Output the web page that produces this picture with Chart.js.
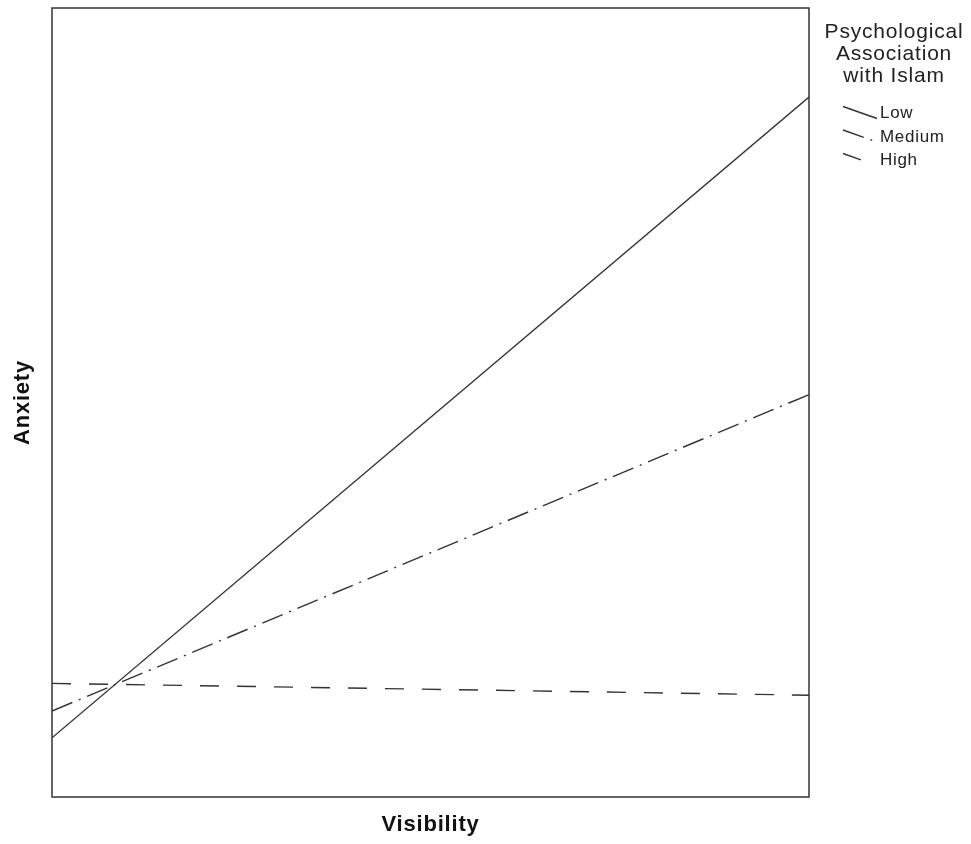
<!DOCTYPE html>
<html lang="en">
<head>
<meta charset="UTF-8">
<title>Anxiety by Visibility</title>
<script src="https://cdn.jsdelivr.net/npm/chart.js"></script>
<style>
    html, body { margin: 0; padding: 0; background: #fff; }
    #wrap { width: 971px; height: 844px; }
</style>
</head>
<body>
<div id="wrap"><canvas id="chart" width="971" height="844"></canvas></div>
<script>
    // values (y on a 0-100 scale, x is the low/high end of Visibility)
    const xPoints = [0, 1];
    const lowValues = [7.5, 88.7];
    const mediumValues = [10.9, 51.0];
    const highValues = [14.4, 12.9];
    const seriesNames = ['Low', 'Medium', 'High'];
    const legendTitle = ['Psychological', 'Association', 'with Islam'];

    const lineColor = '#333';
    const dashes = [[], [22, 7, 2, 7], [19, 18]];
    const axisFont = { family: '"Liberation Sans", Arial, sans-serif', size: 22, weight: 'bold' };

    function toPoints(vals) {
        return vals.map((v, i) => ({ x: xPoints[i], y: v }));
    }

    // box around the plot + the legend to the right
    const framePlugin = {
        id: 'frame',
        beforeDraw(chart) {
            // the SPSS-style text is a bit wider than the font, so add some tracking
            chart.ctx.letterSpacing = '0.8px';
        },
        afterDraw(chart) {
            const { ctx, chartArea: a } = chart;
            ctx.save();
            ctx.strokeStyle = '#333';
            ctx.lineWidth = 1.5;
            ctx.strokeRect(a.left, a.top, a.right - a.left, a.bottom - a.top);

            ctx.fillStyle = '#222';
            ctx.letterSpacing = '0.8px';
            ctx.font = '21px "Liberation Sans", Arial, sans-serif';
            ctx.textAlign = 'center';
            ctx.textBaseline = 'middle';
            legendTitle.forEach((t, i) => ctx.fillText(t, 894, 32 + i * 22.3));

            ctx.font = '17px "Liberation Sans", Arial, sans-serif';
            ctx.letterSpacing = '0.7px';
            ctx.textAlign = 'left';
            chart.data.datasets.forEach((ds, i) => {
                const y = 113.5 + i * 23.5;
                ctx.strokeStyle = lineColor;
                ctx.lineWidth = 1.4;
                ctx.setLineDash(ds.borderDash);
                ctx.beginPath();
                ctx.moveTo(843, y - 7);
                ctx.lineTo(877, y + 5);
                ctx.stroke();
                ctx.setLineDash([]);
                ctx.fillText(ds.label, 880, y);
            });
            ctx.restore();
        }
    };

    const ctx = document.getElementById('chart').getContext('2d');
    new Chart(ctx, {
        type: 'line',
        data: {
            datasets: [lowValues, mediumValues, highValues].map((vals, i) => ({
                label: seriesNames[i],
                data: toPoints(vals),
                borderColor: lineColor,
                borderWidth: 1.4,
                borderDash: dashes[i],
                pointRadius: 0,
                tension: 0,
                fill: false
            }))
        },
        options: {
            responsive: false,
            animation: false,
            layout: { padding: { top: 8, right: 162, left: 0, bottom: 0 } },
            plugins: {
                legend: { display: false },
                tooltip: { enabled: false }
            },
            scales: {
                x: {
                    type: 'linear',
                    min: 0,
                    max: 1,
                    grid: { display: false },
                    border: { display: false },
                    ticks: { display: false },
                    title: {
                        display: true,
                        text: 'Visibility',
                        color: '#111',
                        font: axisFont,
                        padding: { top: 10, bottom: 6 }
                    },
                    afterFit(scale) { scale.height = 47; }
                },
                y: {
                    min: 0,
                    max: 100,
                    grid: { display: false },
                    border: { display: false },
                    ticks: { display: false },
                    title: {
                        display: true,
                        text: 'Anxiety',
                        color: '#111',
                        font: axisFont,
                        padding: { top: 10, bottom: 4 }
                    },
                    afterFit(scale) { scale.width = 52; }
                }
            }
        },
        plugins: [framePlugin]
    });
</script>
</body>
</html>
